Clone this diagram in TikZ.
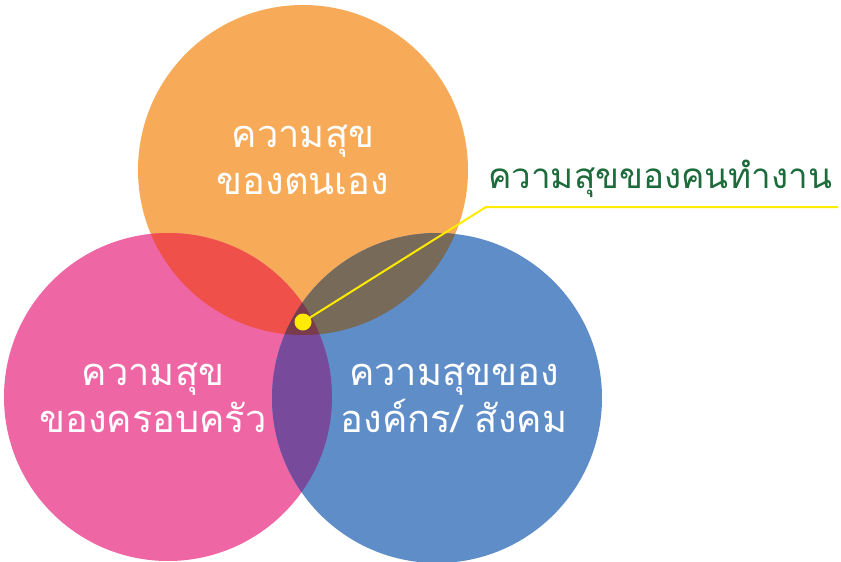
\documentclass[tikz,border=0pt]{standalone}
\usepackage{fontspec}
\newfontfamily\thaifont[Script=Thai]{Loma}
\definecolor{selfc}{HTML}{F7AA57}
\definecolor{famc}{HTML}{EF66A5}
\definecolor{orgc}{HTML}{5F8DC8}
\definecolor{selffam}{HTML}{EF5049}
\definecolor{selforg}{HTML}{776A59}
\definecolor{famorg}{HTML}{774A9C}
\definecolor{allc}{HTML}{7A3C4C}
\definecolor{workc}{HTML}{1D6B3A}
\definecolor{pinc}{HTML}{FFEB00}
\tikzset{
  label/.style={text=white, align=center, font=\thaifont\fontsize{38}{47}\selectfont},
}
\begin{document}
\begin{tikzpicture}[x=1pt,y=-1pt]
\useasboundingbox (0,0) rectangle (841,562);
% the three circles
\fill[selfc] (303,170) circle (165);
\fill[famc] (168,397) circle (164);
\fill[orgc] (437,398) circle (165);
% overlaps
\begin{scope}
  \clip (303,170) circle (165);
  \fill[selffam] (168,397) circle (164);
  \fill[selforg] (437,398) circle (165);
\end{scope}
\begin{scope}
  \clip (168,397) circle (164);
  \fill[famorg] (437,398) circle (165);
  \clip (303,170) circle (165);
  \fill[allc] (437,398) circle (165);
\end{scope}
\node[label] (self) at (303,160) {ความสุข\\ของตนเอง};
\node[label] (fam) at (153,398) {ความสุข\\ของครอบครัว};
\node[label] (org) at (454,398) {ความสุขของ\\องค์กร/ สังคม};
% pointer to the centre
\coordinate (dot) at (303,322);
\coordinate (bend) at (486,207);
\coordinate (tail) at (838,207);
\draw[draw=pinc, line width=2pt] (dot) -- (bend) -- (tail);
\fill[pinc] (dot) circle (8.5);
\node[anchor=base west, inner sep=0pt, text=workc, font=\thaifont\fontsize{35}{40}\selectfont] (work) at (488,188) {ความสุขของคนทำงาน};
\end{tikzpicture}
\end{document}
